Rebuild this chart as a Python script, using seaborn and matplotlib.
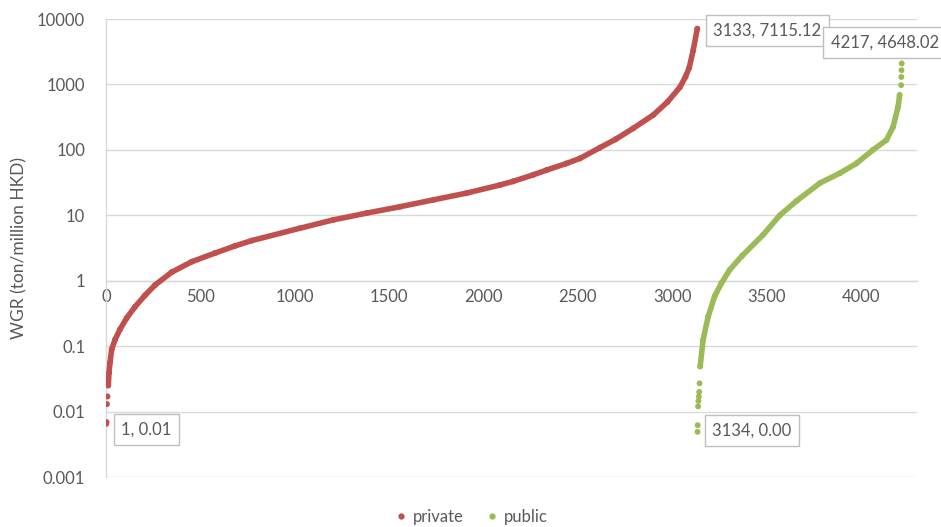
import matplotlib
matplotlib.use("Agg")
import matplotlib.pyplot as plt
import matplotlib.ticker as mticker
import seaborn as sns
import pandas as pd

# Rank of each firm (sorted by WGR) and its waste generation rate
private_rank = [1, 3, 5, 8, 12, 16, 21, 30, 48, 74, 110, 154, 207, 260, 348, 454,
                577, 683, 772, 1028, 1204, 1381, 1557, 1734, 1910, 2087, 2157,
                2263, 2334, 2440, 2511, 2617, 2700, 2793, 2899, 2975, 3040, 3070,
                3090, 3111, 3133]
private_wgr = [0.0065, 0.0069, 0.013, 0.017, 0.025, 0.039, 0.056, 0.089, 0.126,
               0.18, 0.27, 0.40, 0.60, 0.86, 1.35, 1.95, 2.64, 3.4, 4.1, 6.35, 8.5,
               10.8, 13.5, 17.2, 21.8, 29, 33, 41.5, 49, 62, 74, 108, 145, 213,
               340, 540, 900, 1300, 1800, 3300, 7115.12]

public_rank = [3134, 3135, 3137, 3139, 3141, 3143, 3145, 3148, 3164, 3190, 3225,
               3261, 3305, 3370, 3481, 3570, 3658, 3782, 3888, 3976, 4064, 4135,
               4170, 4197, 4205, 4213, 4214, 4215, 4216, 4217]
public_wgr = [0.0049, 0.0062, 0.012, 0.0145, 0.017, 0.020, 0.027, 0.049, 0.126,
              0.28, 0.58, 0.92, 1.47, 2.4, 5.0, 10.0, 16.5, 31, 44, 62, 100, 141,
              224, 456, 690, 975, 1300, 1650, 2090, 4648.02]

x_ticks = [0, 500, 1000, 1500, 2000, 2500, 3000, 3500, 4000]
y_ticks = [0.001, 0.01, 0.1, 1, 10, 100, 1000, 10000]
y_tick_labels = ["0.001", "0.01", "0.1", "1", "10", "100", "1000", "10000"]

series_names = ["private", "public"]
colors = {"private": "#C0504D", "public": "#9BBB59"}

# sparse tails are shown as single dots, the dense body as a solid band
private_body = slice(4, None)
public_body = slice(7, -5)

sns.set_theme(style="white")
plt.rcParams["font.family"] = ["Lato", "DejaVu Sans"]
text_gray = "#595959"
grid_gray = "#D9D9D9"

df_private = pd.DataFrame({"rank": private_rank, "wgr": private_wgr, "sector": "private"})
df_public = pd.DataFrame({"rank": public_rank, "wgr": public_wgr, "sector": "public"})
df_all = pd.concat([df_private, df_public], ignore_index=True)

fig = plt.figure(figsize=(9.41, 5.27), dpi=100)
ax = fig.add_axes([106 / 941, 1 - 477 / 527, (917 - 106) / 941, (477 - 19) / 527])

ax.set_yscale("log")
ax.set_ylim(0.001, 10000)
ax.set_xlim(0, 4297)

for yt in y_ticks:
    ax.axhline(yt, color=grid_gray, lw=1.0, zorder=0)

line_kw = dict(lw=4.0, solid_capstyle="round", solid_joinstyle="round",
               legend=False, zorder=3)
sns.lineplot(data=df_private.iloc[private_body], x="rank", y="wgr", ax=ax,
             color=colors["private"], **line_kw)
sns.lineplot(data=df_public.iloc[public_body], x="rank", y="wgr", ax=ax,
             color=colors["public"], **line_kw)
sns.scatterplot(data=df_all, x="rank", y="wgr", hue="sector", hue_order=series_names,
                palette=colors, s=18, linewidth=0, ax=ax, legend=False, zorder=4)

# axes styling: value axis at x=0, category axis crossing at y=1
for side in ["top", "right"]:
    ax.spines[side].set_visible(False)
ax.spines["left"].set_color(grid_gray)
ax.spines["left"].set_linewidth(1.0)
ax.spines["bottom"].set_position(("data", 1))
ax.spines["bottom"].set_color(grid_gray)
ax.spines["bottom"].set_linewidth(1.0)

ax.set_xticks(x_ticks)
ax.set_xticklabels([str(v) for v in x_ticks])
ax.yaxis.set_major_locator(mticker.FixedLocator(y_ticks))
ax.yaxis.set_major_formatter(mticker.FixedFormatter(y_tick_labels))
ax.yaxis.set_minor_locator(mticker.NullLocator())
ax.tick_params(axis="both", length=0, labelsize=12, labelcolor=text_gray)
ax.tick_params(axis="y", pad=15)
ax.tick_params(axis="x", pad=6)
ax.set_xlabel("")
ax.set_ylabel("WGR (ton/million HKD)", fontsize=12.5, color=text_gray, labelpad=7)

# data callouts
box = dict(boxstyle="square,pad=0.45", fc="white", ec="#BFBFBF", lw=1.0)
callouts = [
    (private_rank[0], private_wgr[0], (15, -6)),
    (private_rank[-1], private_wgr[-1], (16, -2)),
    (public_rank[0], public_wgr[0], (15, 1)),
    (public_rank[-1], public_wgr[-1], (-71, -2)),
]
for xr, yv, off in callouts:
    ax.annotate(f"{xr}, {yv:.2f}", xy=(xr, yv), xytext=off, textcoords="offset pixels",
                ha="left", va="center", fontsize=12, color=text_gray, bbox=box,
                zorder=6)

handles = [plt.Line2D([], [], marker="o", ls="", ms=3.5, color=colors[n]) for n in series_names]
fig.legend(handles, series_names, loc="center", bbox_to_anchor=(0.5, 1 - 517 / 527),
           ncol=2, frameon=False, fontsize=12, labelcolor=text_gray,
           handletextpad=0.2, columnspacing=1.2, handlelength=1.0)

fig.savefig("out.png", dpi=100)
